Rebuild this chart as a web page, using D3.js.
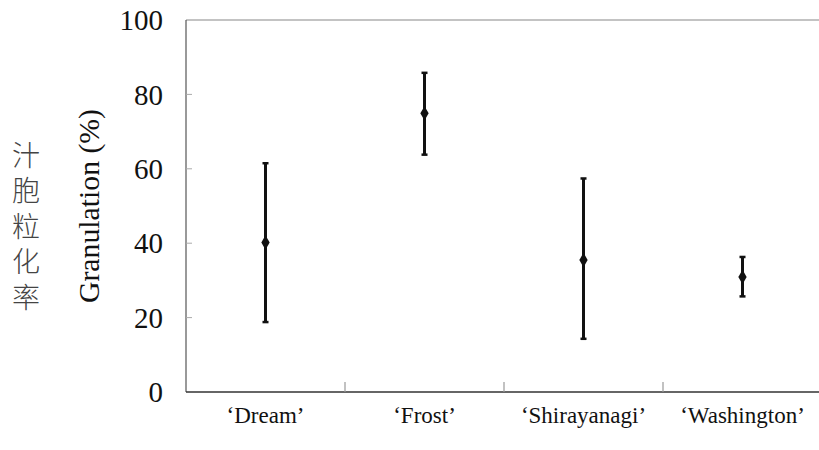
<!DOCTYPE html>
<html>
<head>
<meta charset="utf-8">
<script src="https://cdn.jsdelivr.net/npm/d3@7"></script>
<style>
  body { margin: 0; background: #fff; }
  svg { display: block; }
  .serif { font-family: "Liberation Serif", "DejaVu Serif", serif; }
  .zh { font-family: "Noto Sans CJK SC", sans-serif; }
</style>
</head>
<body>
<script>
// data
const cultivars = ["\u2018Dream\u2019", "\u2018Frost\u2019", "\u2018Shirayanagi\u2019", "\u2018Washington\u2019"];
const means = [40.2, 74.9, 35.5, 30.9];
const upper = [61.5, 85.8, 57.4, 36.3];
const lower = [18.8, 63.8, 14.3, 25.7];
const yTicks = [0, 20, 40, 60, 80, 100];

const W = 819, H = 450;
const svg = d3.select("body").append("svg").attr("width", W).attr("height", H);

const x = d3.scaleBand().domain(cultivars).range([186, 822]);
const y = d3.scaleLinear().domain([0, 100]).range([392, 20]);

// frame: top border, left axis, bottom axis
svg.append("line").attr("x1", 186).attr("x2", W).attr("y1", y(100)).attr("y2", y(100))
  .attr("stroke", "#888").attr("stroke-width", 1.2);
svg.append("line").attr("x1", 186).attr("x2", 186).attr("y1", y(100)).attr("y2", y(0))
  .attr("stroke", "#555").attr("stroke-width", 1.2);
svg.append("line").attr("x1", 186).attr("x2", W).attr("y1", y(0)).attr("y2", y(0))
  .attr("stroke", "#333").attr("stroke-width", 1.5);

// y ticks (inward) and labels
svg.selectAll(".ytick").data(yTicks.slice(1, -1)).enter().append("line")
  .attr("x1", 186).attr("x2", 192).attr("y1", d => y(d)).attr("y2", d => y(d))
  .attr("stroke", "#aaa").attr("stroke-width", 1);
svg.selectAll(".ylab").data(yTicks).enter().append("text")
  .attr("class", "serif")
  .attr("x", 163).attr("y", d => y(d)).attr("dy", "0.35em")
  .attr("text-anchor", "end").attr("font-size", 29)
  .attr("fill", "#111").text(d => d);

// category separators
svg.selectAll(".xtick").data(cultivars.slice(1)).enter().append("line")
  .attr("x1", d => x(d)).attr("x2", d => x(d)).attr("y1", y(0)).attr("y2", y(0) - 10)
  .attr("stroke", "#999").attr("stroke-width", 1.2);

// category labels
svg.selectAll(".xlab").data(cultivars).enter().append("text")
  .attr("class", "serif")
  .attr("x", d => x(d) + x.bandwidth() / 2).attr("y", 423)
  .attr("text-anchor", "middle").attr("font-size", 23)
  .attr("fill", "#111").text(d => d);

// axis title
svg.append("text")
  .attr("class", "serif")
  .attr("transform", "translate(99,206) rotate(-90)")
  .attr("text-anchor", "middle").attr("font-size", 29)
  .attr("textLength", 194).attr("lengthAdjust", "spacingAndGlyphs")
  .attr("fill", "#111").text("Granulation (%)");

// chinese label, written top to bottom
svg.append("text")
  .attr("class", "zh")
  .attr("x", 26).attr("y", 141)
  .style("writing-mode", "vertical-rl")
  .attr("letter-spacing", 7.5)
  .attr("font-weight", 300).attr("font-size", 28).attr("fill", "#444")
  .text("汁胞粒化率");

// error bars
const cx = d => x(d) + x.bandwidth() / 2;
const g = svg.selectAll(".bar").data(cultivars).enter().append("g");
g.append("line")
  .attr("x1", cx).attr("x2", cx)
  .attr("y1", (d, i) => y(upper[i])).attr("y2", (d, i) => y(lower[i]))
  .attr("stroke", "#111").attr("stroke-width", 3);
g.append("line")
  .attr("x1", d => cx(d) - 3).attr("x2", d => cx(d) + 3)
  .attr("y1", (d, i) => y(upper[i])).attr("y2", (d, i) => y(upper[i]))
  .attr("stroke", "#111").attr("stroke-width", 2.5);
g.append("line")
  .attr("x1", d => cx(d) - 3).attr("x2", d => cx(d) + 3)
  .attr("y1", (d, i) => y(lower[i])).attr("y2", (d, i) => y(lower[i]))
  .attr("stroke", "#111").attr("stroke-width", 2.5);
g.append("path")
  .attr("d", d3.symbol(d3.symbolDiamond, 60))
  .attr("transform", (d, i) => `translate(${cx(d)},${y(means[i])})`)
  .attr("fill", "#111");
</script>
</body>
</html>
